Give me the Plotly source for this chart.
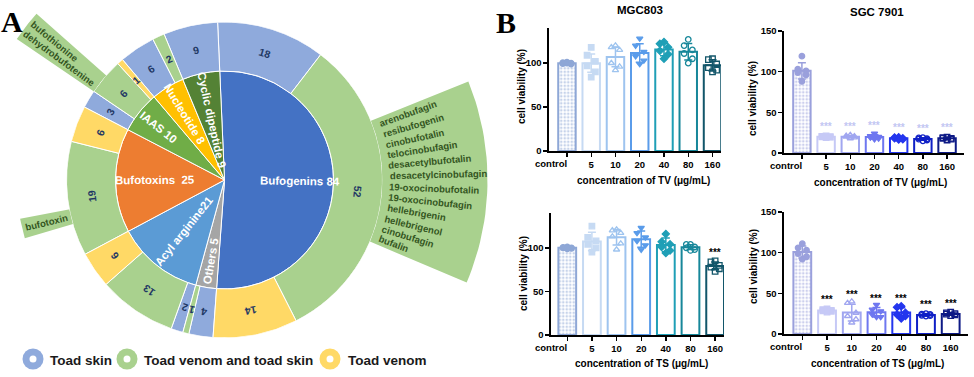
import math
import numpy as np
import plotly.graph_objects as go

W, H = 974, 377
FONT = "Liberation Sans, Arial, Helvetica, sans-serif"
SERIF = "Liberation Serif, Times New Roman, serif"

# ======================= Panel A data =======================
CATEGORIES = ["Bufogenins", "Others", "Acyl arginine", "Bufotoxins", "IAAS", "Nucleotide", "Cyclic dipeptide"]
CATEGORY_COUNTS = [84, 5, 21, 25, 10, 8, 9]
CATEGORY_TEXT = ["Bufogenins 84", "Others 5", "Acyl arginine21", "Bufotoxins  25",
                 "IAAS 10", "Nucleotide 8", "Cyclic dipeptide 9"]

SOURCES = ["Toad skin", "Toad venom and toad skin", "Toad venom"]
SEGMENT_CATEGORY = [0, 0, 0, 1, 1, 2, 2, 2, 3, 3, 4, 4, 4, 5, 5, 6]
SEGMENT_SOURCE = [0, 1, 2, 0, 1, 0, 1, 2, 1, 2, 0, 1, 2, 0, 1, 0]
SEGMENT_COUNTS = [18, 52, 14, 4, 1, 2, 13, 6, 19, 6, 3, 6, 1, 6, 2, 9]

CALLOUT_SEGMENT = [1, 8, 11]
CALLOUT_NAMES = [
    ["arenobufagin", "resibufogenin", "cinobufotalin", "telocinobufagin",
     "desacetylbufotalin", "desacetylcinobufagin", "19-oxocinobufotalin",
     "19-oxocinobufagin", "hellebrigenin", "hellebrigenol", "cinobufagin", "bufalin"],
    ["bufotoxin"],
    ["dehydrobufotenine", "bufothionine"],
]

# ======================= Panel B data =======================
CONCENTRATIONS = ["control", "5", "10", "20", "40", "80", "160"]

MGC803_TV_MEAN = [100, 100, 107, 111.5, 115.5, 113, 97.5]
MGC803_TV_SD = [1.0, 10.5, 11.0, 10.5, 7.2, 9.5, 6.5]
MGC803_TV_POINTS = [
    [101, 100.5, 100, 99.5, 99, 100],
    [118, 109, 102, 97, 90, 84],
    [120, 118, 115, 100, 96, 92],
    [128, 120, 113, 108, 103, 99],
    [124, 122, 118, 114, 110, 105],
    [127, 120, 115, 111, 105, 100],
    [105, 104, 99, 95, 92, 90],
]
MGC803_TV_SIG = ["", "", "", "", "", "", ""]

SGC7901_TV_MEAN = [101, 20, 20, 19.8, 18, 17.2, 18]
SGC7901_TV_SD = [10, 1.5, 1.5, 2.5, 1.2, 1.5, 1.2]
SGC7901_TV_POINTS = [
    [119, 103, 101, 99, 96, 88],
    [21, 20.5, 20, 20, 19.5, 19],
    [22, 21, 20.5, 20, 19, 18],
    [24, 21, 20, 19, 18, 17],
    [19.5, 19, 18, 18, 17, 16.5],
    [19, 18.5, 17.5, 17, 16, 15],
    [19.5, 19, 18, 18, 17, 16],
]
SGC7901_TV_SIG = ["", "***", "***", "***", "***", "***", "***"]

MGC803_TS_MEAN = [100, 107.3, 112.3, 110, 103.4, 100.8, 79.3]
MGC803_TS_SD = [1.5, 10.5, 8.9, 9.3, 7.9, 2.8, 4.5]
MGC803_TS_POINTS = [
    [101, 100.5, 100, 100, 99.5, 99],
    [125, 112, 108, 104, 100, 95],
    [121, 120, 117, 113, 105, 98],
    [123, 117, 112, 108, 103, 98],
    [116, 107, 104, 101, 97, 94],
    [104, 104, 101, 100, 98, 97],
    [85, 84, 80, 78, 76, 73],
]
MGC803_TS_SIG = ["", "", "", "", "", "", "***"]

SGC7901_TS_MEAN = [100.8, 28.8, 26.3, 26.7, 26.3, 23.5, 24.7]
SGC7901_TS_SD = [7.5, 1.5, 10.4, 5.8, 5.9, 1.2, 1.7]
SGC7901_TS_POINTS = [
    [111, 106, 103, 99, 95, 92],
    [31, 30, 29, 28.5, 28, 27],
    [40, 38, 26, 22, 18, 14],
    [36, 30, 28, 24, 21, 21],
    [34, 33, 26, 24, 22, 19],
    [25, 24.5, 24, 23, 22.5, 22],
    [27, 26, 25, 24.5, 23.5, 22.5],
]
SGC7901_TS_SIG = ["", "***", "***", "***", "***", "***", "***"]

# ======================= styles / layout =======================
CAT_COLORS = ["#4472C4", "#A5A5A5", "#5B9BD5", "#ED7D31", "#70AD47", "#FFC000", "#548235"]
SOURCE_COLORS = ["#8FAADC", "#A9D18E", "#FFD966"]
NUM_COLOR = "#1F3864"
CALLOUT_TEXT_COLOR = "#34561F"
CX, CY = 224.5, 180.0          # pixel centre of the sunburst
R_IN, R_OUT = 109, 158         # radii in px (radial axis range = [0, R_OUT])
ROT = -2.5                     # start angle offset (deg, clockwise from north)
CAT_LABEL_R = [76, 82, 65, 70, 85, 77, 61]
CALLOUT_FRAC = [(0.264, 0.653), (0.28, 0.41), (0.0, 0.55)]
CALLOUT_ROUT = [263, 208, 251]

MGC_COLORS = ["#8EA7D6", "#C6DAF3", "#9EC4EF", "#5A9CEA", "#1F9FB6", "#17879A", "#12566A"]
SGC_COLORS = ["#9AA0DC", "#C6C9F6", "#A0A6F0", "#6E77F0", "#2436EE", "#1020C6", "#0E1A86"]
SYMBOLS = ["circle", "square", "triangle-up-open", "triangle-down", "diamond", "circle-open", "square-open"]
JITTER = [0.0, -0.17, 0.17, -0.17, 0.17, 0.0]

AW = {'a': 556, 'b': 611, 'c': 556, 'd': 611, 'e': 556, 'f': 333, 'g': 611, 'h': 611, 'i': 278,
      'j': 278, 'k': 556, 'l': 278, 'm': 889, 'n': 611, 'o': 611, 'p': 611, 'q': 611, 'r': 389,
      's': 556, 't': 333, 'u': 611, 'v': 556, 'w': 778, 'x': 556, 'y': 556, 'z': 500, '-': 333, ' ': 278}


def text_w(s, size):
    return sum(AW.get(ch, 556) for ch in s) / 1000.0 * size


def to_paper(x_px, y_px):
    return x_px / W, 1 - y_px / H


def polar_px(theta_pic, r):
    t = math.radians(theta_pic)
    return CX + r * math.sin(t), CY - r * math.cos(t)


def norm(a):
    a = a % 360
    return a - 360 if a > 180 else a


annotations = []


def ann(text, x_px, y_px, size, color="black", angle=0, family=FONT, weight="bold",
        xanchor="center", yanchor="middle"):
    x, y = to_paper(x_px, y_px)
    annotations.append(dict(text=text, x=x, y=y, xref="paper", yref="paper", showarrow=False,
                            textangle=angle, xanchor=xanchor, yanchor=yanchor, borderpad=0,
                            font=dict(family=family, size=size, color=color, weight=weight)))


fig = go.Figure()

# ---------------- Panel A: sunburst built from barpolar ----------------
total = sum(CATEGORY_COUNTS)
dpc = 360.0 / total
cat_start = np.concatenate([[0], np.cumsum(CATEGORY_COUNTS)[:-1]]) * dpc
cat_width = np.array(CATEGORY_COUNTS) * dpc
cat_mid = cat_start + cat_width / 2
seg_start = np.concatenate([[0], np.cumsum(SEGMENT_COUNTS)[:-1]]) * dpc
seg_width = np.array(SEGMENT_COUNTS) * dpc
seg_mid = seg_start + seg_width / 2

# callout wedges (extend beyond the polar circle) -> drawn on a hidden full-page pixel axis
co_a0, co_a1 = [], []
for k, seg in enumerate(CALLOUT_SEGMENT):
    f0, f1 = CALLOUT_FRAC[k]
    a0 = seg_start[seg] + f0 * seg_width[seg] + ROT
    a1 = seg_start[seg] + f1 * seg_width[seg] + ROT
    co_a0.append(a0); co_a1.append(a1)
    angs = np.linspace(a0, a1, 30)
    outer = [polar_px(a, CALLOUT_ROUT[k]) for a in angs]
    inner = [polar_px(a, R_OUT - 2) for a in angs[::-1]]
    pts = outer + inner + [outer[0]]
    fig.add_trace(go.Scatter(x=[p[0] for p in pts], y=[p[1] for p in pts], mode="lines",
                             fill="toself", fillcolor=SOURCE_COLORS[1], line=dict(width=0),
                             xaxis="x5", yaxis="y5", showlegend=False, hoverinfo="skip"))

fig.add_trace(go.Barpolar(theta=cat_mid, width=cat_width, r=[R_IN] * len(CATEGORIES), base=0,
                          marker=dict(color=CAT_COLORS, line=dict(color="white", width=1)),
                          subplot="polar", showlegend=False, hoverinfo="skip"))
for s in range(len(SOURCES)):
    idx = [i for i in range(len(SEGMENT_COUNTS)) if SEGMENT_SOURCE[i] == s]
    fig.add_trace(go.Barpolar(theta=seg_mid[idx], width=seg_width[idx], base=R_IN,
                              r=[R_OUT - R_IN] * len(idx),
                              marker=dict(color=SOURCE_COLORS[s], line=dict(color="white", width=1)),
                              subplot="polar", showlegend=False, hoverinfo="skip", name=SOURCES[s]))

# category labels (radial)
for i, txt in enumerate(CATEGORY_TEXT):
    th = cat_mid[i] + ROT
    x, y = polar_px(th, CAT_LABEL_R[i])
    ang = th - 90 if (th % 360) < 180 else th - 270
    ann(txt, x, y, 11.5, color="white", angle=norm(ang))

# outer ring numbers (tangential)
for i, c in enumerate(SEGMENT_COUNTS):
    th = seg_mid[i] + ROT
    x, y = polar_px(th, (R_IN + R_OUT) / 2)
    ann(str(c), x, y, 10.5, color=NUM_COLOR, angle=norm(th))

# callout texts (radial)
CO_FS = 9.5
for k, names in enumerate(CALLOUT_NAMES):
    a0, a1 = co_a0[k], co_a1[k]
    m = 2.2
    n = len(names)
    for j, nm in enumerate(names):
        th = (a0 + a1) / 2 if n == 1 else a0 + m + j * (a1 - a0 - 2 * m) / (n - 1)
        w = text_w(nm, CO_FS)
        if (th % 360) < 180:
            rc = R_OUT + 7 + w / 2
            ang = th - 90
        else:
            rc = CALLOUT_ROUT[k] - 3 - w / 2
            ang = th - 270
        x, y = polar_px(th, rc)
        ann(nm, x, y, CO_FS, color=CALLOUT_TEXT_COLOR, angle=norm(ang))

# legend for panel A
LEG_ICON_X = [33, 127, 330]
LEG_TEXT_X = [49, 143, 347]
LEG_Y = 359
shapes = []
for s in range(len(SOURCES)):
    for rr, col in [(10.5, SOURCE_COLORS[s]), (3.5, "white")]:
        x0, y0 = to_paper(LEG_ICON_X[s] - rr, LEG_Y + rr)
        x1, y1 = to_paper(LEG_ICON_X[s] + rr, LEG_Y - rr)
        shapes.append(dict(type="circle", xref="paper", yref="paper", x0=x0, y0=y0, x1=x1, y1=y1,
                           fillcolor=col, line=dict(width=0)))
    ann(SOURCES[s], LEG_TEXT_X[s], LEG_Y + 1, 13.5, color="#1A1A1A", xanchor="left")

# ---------------- Panel B: four bar charts ----------------
PANELS = [
    dict(n="", mean=MGC803_TV_MEAN, sd=MGC803_TV_SD, pts=MGC803_TV_POINTS, sig=MGC803_TV_SIG,
         colors=MGC_COLORS, star="black", xdom=(549, 721), ydom=(28, 151), ymax=140,
         yticks=[0, 50, 100], xr=(-0.74, 6.35)),
    dict(n="2", mean=SGC7901_TV_MEAN, sd=SGC7901_TV_SD, pts=SGC7901_TV_POINTS, sig=SGC7901_TV_SIG,
         colors=SGC_COLORS, star="#C2C6F2", xdom=(784, 964), ydom=(31, 153), ymax=150,
         yticks=[0, 50, 100, 150], xr=(-0.74, 6.7)),
    dict(n="3", mean=MGC803_TS_MEAN, sd=MGC803_TS_SD, pts=MGC803_TS_POINTS, sig=MGC803_TS_SIG,
         colors=MGC_COLORS, star="black", xdom=(551, 724), ydom=(213, 335), ymax=140,
         yticks=[0, 50, 100], xr=(-0.66, 6.36)),
    dict(n="4", mean=SGC7901_TS_MEAN, sd=SGC7901_TS_SD, pts=SGC7901_TS_POINTS, sig=SGC7901_TS_SIG,
         colors=SGC_COLORS, star="black", xdom=(784, 968), ydom=(212, 334), ymax=150,
         yticks=[0, 50, 100, 150], xr=(-0.74, 6.7)),
]

TICK_FONT = dict(family=FONT, size=9.5, color="black", weight="bold")
ticktext = [""] + CONCENTRATIONS[1:]
layout_axes = {}
for p in PANELS:
    xa, ya = "x" + p["n"], "y" + p["n"]
    for i in range(len(CONCENTRATIONS)):
        c = p["colors"][i]
        marker = dict(color="white", line=dict(color=c, width=2))
        if i == 0:
            marker["pattern"] = dict(shape=".", fgcolor=c, bgcolor="white", size=3.5, solidity=0.45)
        fig.add_trace(go.Bar(x=[i], y=[p["mean"][i]], width=0.72, xaxis=xa, yaxis=ya, marker=marker,
                             error_y=dict(type="data", array=[p["sd"][i]], color=c, thickness=1.5, width=4),
                             showlegend=False, hoverinfo="skip"))
        fig.add_trace(go.Scatter(x=[i + j for j in JITTER], y=p["pts"][i], mode="markers",
                                 xaxis=xa, yaxis=ya, cliponaxis=False,
                                 marker=dict(symbol=SYMBOLS[i], color=c, size=5.5, line=dict(color=c, width=1.3)),
                                 showlegend=False, hoverinfo="skip"))
        if p["sig"][i]:
            annotations.append(dict(text=p["sig"][i], x=i, y=p["mean"][i] + p["sd"][i], xref=xa, yref=ya,
                                    showarrow=False, yanchor="bottom", yshift=2,
                                    font=dict(family=FONT, size=10, color=p["star"], weight="bold")))
    # "control" label sits left of its tick (GraphPad style)
    annotations.append(dict(text=CONCENTRATIONS[0], x=0, y=0, xref=xa, yref=ya + " domain",
                            showarrow=False, xanchor="center", yanchor="top", xshift=-16, yshift=-6,
                            borderpad=0, font=TICK_FONT))
    x0, x1 = p["xdom"]
    yt, yb = p["ydom"]
    axis_common = dict(showline=True, linecolor="black", linewidth=1.6, ticks="outside", ticklen=4,
                       tickwidth=1.4, tickcolor="black", showgrid=False, zeroline=False, automargin=False,
                       tickfont=TICK_FONT)
    layout_axes["xaxis" + p["n"]] = dict(axis_common, domain=[x0 / W, x1 / W], anchor=ya, range=list(p["xr"]),
                                         tickmode="array", tickvals=list(range(len(CONCENTRATIONS))),
                                         ticktext=ticktext, tickangle=0)
    layout_axes["yaxis" + p["n"]] = dict(axis_common, domain=[1 - yb / H, 1 - yt / H], anchor=xa,
                                         range=[0, p["ymax"]], tickmode="array", tickvals=p["yticks"])

layout_axes["xaxis5"] = dict(domain=[0, 1], range=[0, W], visible=False, fixedrange=True, anchor="y5")
layout_axes["yaxis5"] = dict(domain=[0, 1], range=[H, 0], visible=False, fixedrange=True, anchor="x5")

# panel B titles / axis titles
ann("MGC803", 640, 10, 11.5)
ann("SGC 7901", 877, 12, 11.5)
ann("concentration of TV (μg/mL)", 643, 180, 10)
ann("concentration of TV (μg/mL)", 880, 182, 10)
ann("concentration of TS (μg/mL)", 641, 363, 10)
ann("concentration of TS (μg/mL)", 877, 363, 10)
ann("cell viability (%)", 521, 87, 10, angle=-90)
ann("cell viability (%)", 753, 99, 10, angle=-90)
ann("cell viability (%)", 523, 274, 10, angle=-90)
ann("cell viability (%)", 753, 267, 10, angle=-90)

# panel letters
ann("A", 12, 22, 30, family=SERIF)
ann("B", 506, 23, 30, family=SERIF)

px0, py0 = to_paper(CX - R_OUT, CY + R_OUT)
px1, py1 = to_paper(CX + R_OUT, CY - R_OUT)
fig.update_layout(
    width=W, height=H, margin=dict(l=0, r=0, t=0, b=0),
    paper_bgcolor="white", plot_bgcolor="rgba(0,0,0,0)",
    showlegend=False, barmode="overlay",
    polar=dict(domain=dict(x=[px0, px1], y=[py0, py1]), bgcolor="rgba(0,0,0,0)", hole=0,
               radialaxis=dict(visible=False, range=[0, R_OUT]),
               angularaxis=dict(visible=False, direction="clockwise", rotation=90 - ROT)),
    annotations=annotations, shapes=shapes,
    **layout_axes,
)

fig.write_html("out.html", config={"displayModeBar": False, "staticPlot": True},
               post_script="document.body.style.margin='0';")
